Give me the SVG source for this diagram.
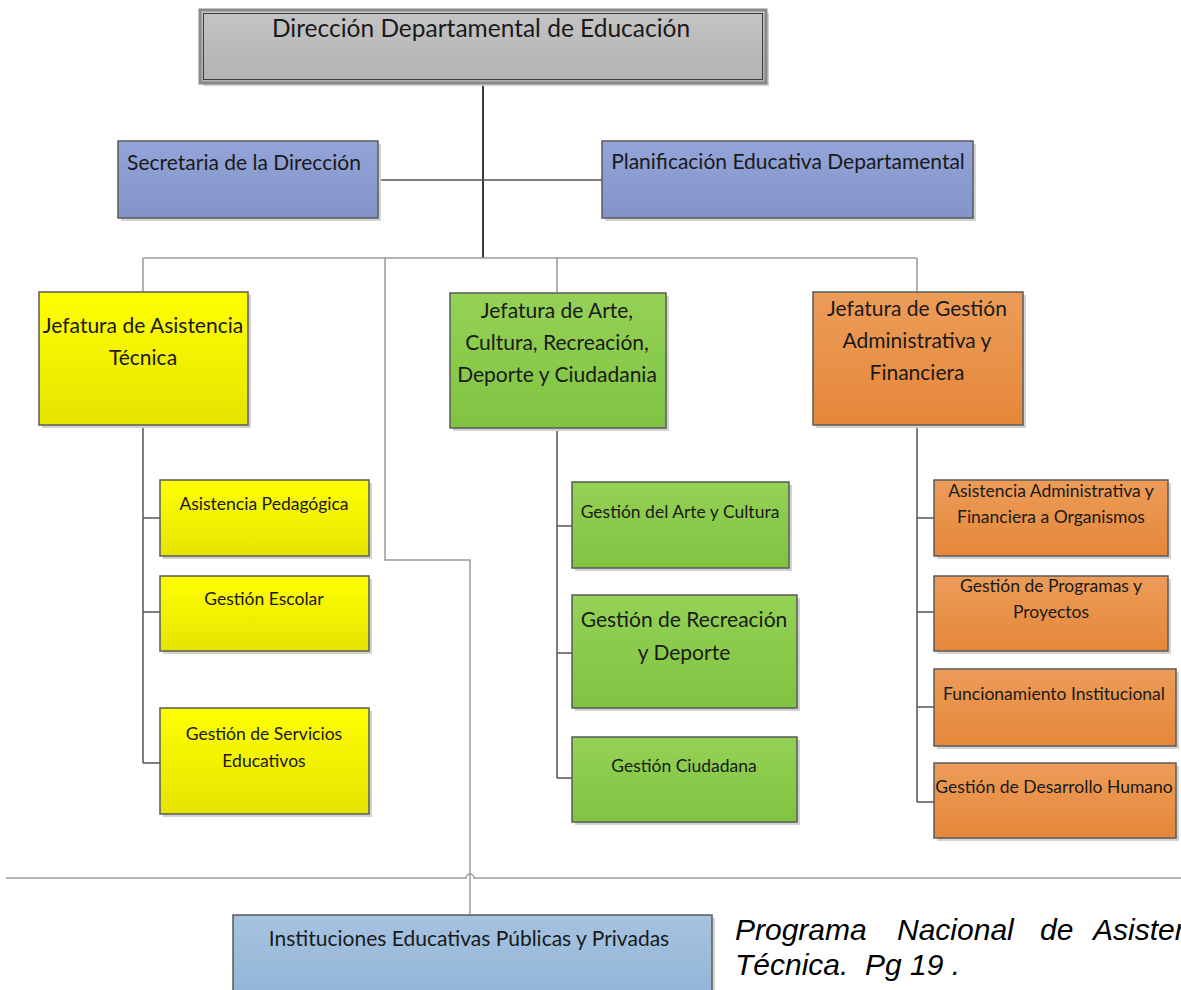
<svg xmlns="http://www.w3.org/2000/svg" width="1181" height="990" viewBox="0 0 1181 990">
<defs>
<linearGradient id="gGray" x1="0" y1="0" x2="0" y2="1"><stop offset="0" stop-color="#c4c4c4"/><stop offset="1" stop-color="#b2b2b2"/></linearGradient>
<linearGradient id="gBlue" x1="0" y1="0" x2="0" y2="1"><stop offset="0" stop-color="#94a4d8"/><stop offset="1" stop-color="#8294c9"/></linearGradient>
<linearGradient id="gYel" x1="0" y1="0" x2="0" y2="1"><stop offset="0" stop-color="#ffff00"/><stop offset="1" stop-color="#e6e400"/></linearGradient>
<linearGradient id="gGrn" x1="0" y1="0" x2="0" y2="1"><stop offset="0" stop-color="#94d255"/><stop offset="1" stop-color="#80c341"/></linearGradient>
<linearGradient id="gOra" x1="0" y1="0" x2="0" y2="1"><stop offset="0" stop-color="#ec9c58"/><stop offset="1" stop-color="#e5873a"/></linearGradient>
<linearGradient id="gLb" x1="0" y1="0" x2="0" y2="1"><stop offset="0" stop-color="#a6c3e0"/><stop offset="1" stop-color="#93b5d7"/></linearGradient>
</defs>
<style>
.box{stroke:#5a5a5a;stroke-width:1.5}
.sh{fill:#d2d2d2}
.t{font-family:Lato,"Open Sans",sans-serif;fill:#1a1a1a;text-anchor:middle}
.s{font-size:17.5px}
.c1{fill:none;stroke:#3a3a3a;stroke-width:2}
.c2{fill:none;stroke:#9a9a9a;stroke-width:1.5}
.c3{fill:none;stroke:#555;stroke-width:1.5}
.cap{font-family:"Liberation Sans",Arial,sans-serif;font-style:italic;font-size:30px;fill:#000}
</style>
<rect width="1181" height="990" fill="#fff"/>
<g id="connectors">
<path class="c1" d="M483,83 V258"/>
<path class="c3" d="M378,180 H603"/>
<path class="c2" d="M143,258 H917 M143,258 V292 M557,258 V293 M917,258 V292"/>
<path class="c2" d="M385,258 V560 H470 V915"/>
<path class="c2" d="M6,878 H466 A4,4 0 0 1 474,878 H1181"/>
<path class="c3" d="M143,425 V763 M143,518 H160 M143,612 H160 M143,763 H160"/>
<path class="c3" d="M557,428 V778 M557,526 H572 M557,653 H572 M557,778 H572"/>
<path class="c3" d="M917,425 V802 M917,518 H934 M917,612 H934 M917,707 H934 M917,802 H934"/>
</g>
<g id="n-direccion">
<rect x="203" y="13" width="566" height="73" class="sh"/>
<rect x="200" y="10" width="566" height="73" fill="url(#gGray)" stroke="#8a8a8a" stroke-width="3"/>
<rect x="203.5" y="13.5" width="559" height="66" fill="none" stroke="#3c3c3c" stroke-width="1"/>
<text class="t" x="481" y="37" font-size="24.5">Dirección Departamental de Educación</text>
</g>
<g id="n-secretaria">
<rect x="121" y="144" width="260" height="77" class="sh"/>
<rect x="118" y="141" width="260" height="77" fill="url(#gBlue)" class="box"/>
<text class="t" x="244" y="170" font-size="21">Secretaria de la Dirección</text>
</g>
<g id="n-planificacion">
<rect x="605" y="144" width="371" height="77" class="sh"/>
<rect x="602" y="141" width="371" height="77" fill="url(#gBlue)" class="box"/>
<text class="t" x="788" y="169" font-size="21">Planificación Educativa Departamental</text>
</g>
<g id="n-jef-asistencia">
<rect x="42" y="295" width="209" height="133" class="sh"/>
<rect x="39" y="292" width="209" height="133" fill="url(#gYel)" class="box"/>
<text class="t" x="143" y="333" font-size="21">Jefatura de Asistencia</text>
<text class="t" x="143" y="365" font-size="21">Técnica</text>
</g>
<g id="n-jef-arte">
<rect x="453" y="296" width="216" height="135" class="sh"/>
<rect x="450" y="293" width="216" height="135" fill="url(#gGrn)" class="box"/>
<text class="t" x="557" y="318" font-size="21">Jefatura de Arte,</text>
<text class="t" x="557" y="350" font-size="21">Cultura, Recreación,</text>
<text class="t" x="557" y="382" font-size="21">Deporte y Ciudadania</text>
</g>
<g id="n-jef-gestion">
<rect x="816" y="295" width="210" height="133" class="sh"/>
<rect x="813" y="292" width="210" height="133" fill="url(#gOra)" class="box"/>
<text class="t" x="917" y="316" font-size="21">Jefatura de Gestión</text>
<text class="t" x="917" y="348" font-size="21">Administrativa y</text>
<text class="t" x="917" y="380" font-size="21">Financiera</text>
</g>
<g id="n-asist-ped">
<rect x="163" y="483" width="209" height="76" class="sh"/>
<rect x="160" y="480" width="209" height="76" fill="url(#gYel)" class="box"/>
<text class="t s" x="264" y="510">Asistencia Pedagógica</text>
</g>
<g id="n-gest-escolar">
<rect x="163" y="579" width="209" height="75" class="sh"/>
<rect x="160" y="576" width="209" height="75" fill="url(#gYel)" class="box"/>
<text class="t s" x="264" y="605">Gestión Escolar</text>
</g>
<g id="n-gest-servicios">
<rect x="163" y="711" width="209" height="106" class="sh"/>
<rect x="160" y="708" width="209" height="106" fill="url(#gYel)" class="box"/>
<text class="t s" x="264" y="740">Gestión de Servicios</text>
<text class="t s" x="264" y="767">Educativos</text>
</g>
<g id="n-gest-arte">
<rect x="575" y="485" width="217" height="86" class="sh"/>
<rect x="572" y="482" width="217" height="86" fill="url(#gGrn)" class="box"/>
<text class="t s" x="680" y="518">Gestión del Arte y Cultura</text>
</g>
<g id="n-gest-recreacion">
<rect x="575" y="598" width="225" height="113" class="sh"/>
<rect x="572" y="595" width="225" height="113" fill="url(#gGrn)" class="box"/>
<text class="t" x="684" y="627" font-size="21">Gestión de Recreación</text>
<text class="t" x="684" y="660" font-size="21">y Deporte</text>
</g>
<g id="n-gest-ciudadana">
<rect x="575" y="740" width="225" height="85" class="sh"/>
<rect x="572" y="737" width="225" height="85" fill="url(#gGrn)" class="box"/>
<text class="t s" x="684" y="772">Gestión Ciudadana</text>
</g>
<g id="n-asist-admin">
<rect x="937" y="483" width="234" height="76" class="sh"/>
<rect x="934" y="480" width="234" height="76" fill="url(#gOra)" class="box"/>
<text class="t s" x="1051" y="497">Asistencia Administrativa y</text>
<text class="t s" x="1051" y="523">Financiera a Organismos</text>
</g>
<g id="n-gest-programas">
<rect x="937" y="579" width="234" height="75" class="sh"/>
<rect x="934" y="576" width="234" height="75" fill="url(#gOra)" class="box"/>
<text class="t s" x="1051" y="592">Gestión de Programas y</text>
<text class="t s" x="1051" y="618">Proyectos</text>
</g>
<g id="n-funcionamiento">
<rect x="937" y="672" width="242" height="77" class="sh"/>
<rect x="934" y="669" width="242" height="77" fill="url(#gOra)" class="box"/>
<text class="t s" x="1054" y="700">Funcionamiento Institucional</text>
</g>
<g id="n-desarrollo">
<rect x="937" y="766" width="242" height="75" class="sh"/>
<rect x="934" y="763" width="242" height="75" fill="url(#gOra)" class="box"/>
<text class="t s" x="1054" y="793">Gestión de Desarrollo Humano</text>
</g>
<g id="n-instituciones">
<rect x="236" y="918" width="479" height="80" class="sh"/>
<rect x="233" y="915" width="479" height="80" fill="url(#gLb)" class="box"/>
<text class="t" x="469" y="946" font-size="21">Instituciones Educativas Públicas y Privadas</text>
</g>
<g id="caption">
<text class="cap" y="940"><tspan x="735">Programa</tspan><tspan x="897">Nacional</tspan><tspan x="1040">de</tspan><tspan x="1093">Asistencia</tspan></text>
<text class="cap" x="735" y="975" xml:space="preserve">Técnica.  Pg 19 .</text>
</g>
</svg>
